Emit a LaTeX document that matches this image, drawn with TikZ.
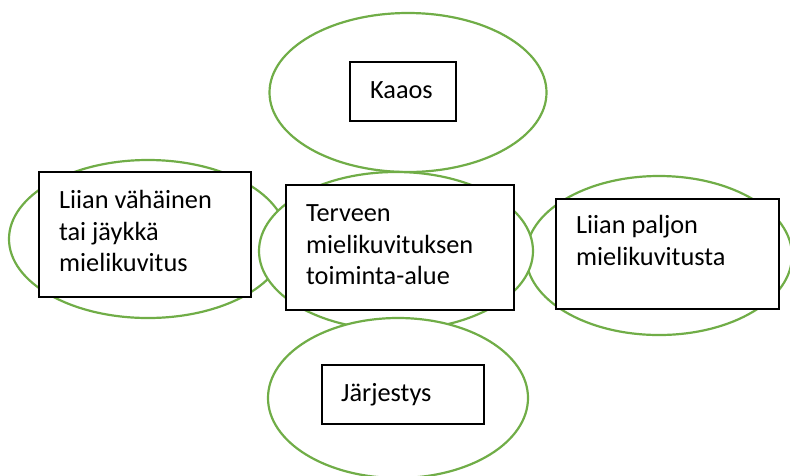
\documentclass[tikz,border=0pt]{standalone}
\usepackage{fontspec}
\setmainfont{Carlito}
\usetikzlibrary{shapes.geometric}
\definecolor{ringgreen}{HTML}{70AD47}

\begin{document}
\begin{tikzpicture}[x=1pt, y=-1pt,
    ring/.style={ellipse, draw=ringgreen, fill=white, line width=2.2pt, inner sep=0pt},
    box/.style={rectangle, draw=black, fill=white, line width=1.1pt, inner sep=0pt},
    boxtext/.style={anchor=north west, inner sep=0pt, align=left, font=\fontsize{26.3}{31.5}\selectfont}
]
\useasboundingbox (0,0) rectangle (790,475);

% Rings
\node[ring, minimum width=277pt, minimum height=159pt] (kaaosring) at (408,92.5) {};
\node[ring, minimum width=278pt, minimum height=158pt] (vahainenring) at (148,239) {};
\node[ring, minimum width=266pt, minimum height=159pt] (paljonring) at (659,255.5) {};
\node[ring, minimum width=274pt, minimum height=158pt] (terveenring) at (396,251) {};
\node[ring, minimum width=260pt, minimum height=160pt] (jarjestysring) at (398,398) {};

% Boxes
\node[box, minimum width=106pt, minimum height=59pt] (kaaosbox) at (403,91.5) {};
\node[box, minimum width=212pt, minimum height=125pt] (vahainenbox) at (145,234.5) {};
\node[box, minimum width=228pt, minimum height=125pt] (terveenbox) at (400,247.5) {};
\node[box, minimum width=223pt, minimum height=110pt] (paljonbox) at (667.5,254) {};
\node[box, minimum width=162pt, minimum height=59pt] (jarjestysbox) at (403,394.5) {};

% Texts
\node[boxtext] (kaaos) at ([shift={(20.5,15)}]kaaosbox.north west) {\strut Kaaos};
\node[boxtext] (vahainen) at ([shift={(20.5,15)}]vahainenbox.north west) {\strut Liian vähäinen\\tai jäykkä\\mielikuvitus};
\node[boxtext] (terveen) at ([shift={(20.5,15)}]terveenbox.north west) {\strut Terveen\\mielikuvituksen\\toiminta-alue};
\node[boxtext] (paljon) at ([shift={(20.5,13)}]paljonbox.north west) {\strut Liian paljon\\mielikuvitusta};
\node[boxtext] (jarjestys) at ([shift={(19.5,15)}]jarjestysbox.north west) {\strut Järjestys};

\end{tikzpicture}
\end{document}
